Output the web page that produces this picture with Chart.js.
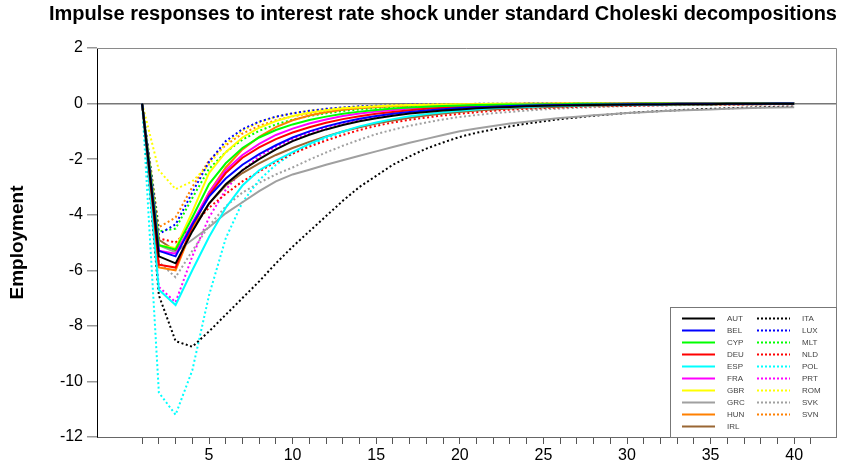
<!DOCTYPE html>
<html>
<head>
<meta charset="utf-8">
<script src="https://cdn.jsdelivr.net/npm/chart.js@4"></script>
<style>
  html, body { margin: 0; padding: 0; background: #fff; }
  #wrap { width: 852px; height: 468px; }
</style>
</head>
<body>
<div id="wrap"><canvas id="myChart" width="852" height="468"></canvas></div>
<script>
var chartTitle = 'Impulse responses to interest rate shock under standard Choleski decompositions';
var periods = [1, 2, 3, 4, 5, 6, 7, 8, 9, 10,
  11, 12, 13, 14, 15, 16, 17, 18, 19, 20,
  21, 22, 23, 24, 25, 26, 27, 28, 29, 30,
  31, 32, 33, 34, 35, 36, 37, 38, 39, 40];
var yTicks = [2, 0, -2, -4, -6, -8, -10, -12];

// solid lines
var AUT = [0, -5.5, -5.75, -4.6, -3.6, -2.9, -2.4, -2.0, -1.65, -1.35,
  -1.12, -0.93, -0.77, -0.64, -0.53, -0.44, -0.36, -0.3, -0.25, -0.21,
  -0.17, -0.14, -0.12, -0.1, -0.08, -0.07, -0.06, -0.05, -0.04, -0.04,
  -0.03, -0.03, -0.02, -0.02, -0.02, -0.01, -0.01, -0.01, -0.01, -0.01];
var BEL = [0, -5.3, -5.5, -4.35, -3.35, -2.7, -2.2, -1.82, -1.5, -1.22,
  -1.0, -0.82, -0.67, -0.55, -0.45, -0.37, -0.3, -0.25, -0.2, -0.16,
  -0.13, -0.11, -0.09, -0.07, -0.06, -0.05, -0.04, -0.03, -0.03, -0.02,
  -0.02, -0.02, -0.01, -0.01, -0.01, -0.01, -0.01, -0.01, 0, 0];
var CYP = [0, -5.1, -5.25, -4.1, -2.9, -2.15, -1.6, -1.22, -0.95, -0.75,
  -0.59, -0.47, -0.37, -0.29, -0.23, -0.18, -0.14, -0.11, -0.09, -0.07,
  -0.05, -0.04, -0.03, -0.03, -0.02, -0.02, -0.01, -0.01, -0.01, -0.01,
  0, 0, 0, 0, 0, 0, 0, 0, 0, 0];
var DEU = [0, -5.8, -5.9, -4.4, -3.3, -2.5, -1.95, -1.58, -1.28, -1.04,
  -0.85, -0.69, -0.56, -0.46, -0.37, -0.3, -0.24, -0.19, -0.15, -0.12,
  -0.1, -0.08, -0.06, -0.05, -0.04, -0.03, -0.03, -0.02, -0.02, -0.01,
  -0.01, -0.01, -0.01, 0, 0, 0, 0, 0, 0, 0];
var ESP = [0, -6.7, -7.25, -6.0, -4.8, -3.75, -2.95, -2.4, -2.05, -1.75,
  -1.45, -1.2, -1.0, -0.82, -0.68, -0.56, -0.46, -0.38, -0.31, -0.26,
  -0.21, -0.17, -0.14, -0.12, -0.1, -0.08, -0.07, -0.06, -0.05, -0.04,
  -0.03, -0.03, -0.02, -0.02, -0.02, -0.01, -0.01, -0.01, -0.01, -0.01];
var FRA = [0, -5.3, -5.4, -4.3, -3.2, -2.4, -1.85, -1.45, -1.13, -0.9,
  -0.72, -0.57, -0.45, -0.36, -0.29, -0.23, -0.18, -0.14, -0.11, -0.09,
  -0.07, -0.06, -0.05, -0.04, -0.03, -0.02, -0.02, -0.02, -0.01, -0.01,
  -0.01, -0.01, 0, 0, 0, 0, 0, 0, 0, 0];
var GBR = [0, -5.1, -5.2, -3.9, -2.5, -1.75, -1.22, -0.87, -0.63, -0.45,
  -0.33, -0.24, -0.17, -0.13, -0.1, -0.07, -0.05, -0.04, -0.03, -0.02,
  -0.02, -0.01, -0.01, -0.01, -0.01, 0, 0, 0, 0, 0,
  0, 0, 0, 0, 0, 0, 0, 0, 0, 0];
var GRC = [0, -5.1, -5.35, -4.9, -4.45, -3.95, -3.55, -3.15, -2.8, -2.55,
  -2.38, -2.2, -2.04, -1.88, -1.72, -1.56, -1.41, -1.27, -1.13, -1.0,
  -0.9, -0.81, -0.72, -0.65, -0.58, -0.52, -0.47, -0.42, -0.38, -0.34,
  -0.31, -0.28, -0.25, -0.23, -0.21, -0.19, -0.17, -0.15, -0.14, -0.13];
var HUN = [0, -5.9, -6.0, -4.5, -3.2, -2.3, -1.65, -1.2, -0.85, -0.6,
  -0.43, -0.31, -0.22, -0.16, -0.12, -0.09, -0.07, -0.05, -0.04, -0.03,
  -0.02, -0.02, -0.01, -0.01, -0.01, 0, 0, 0, 0, 0,
  0, 0, 0, 0, 0, 0, 0, 0, 0, 0];
var IRL = [0, -4.9, -5.3, -4.5, -3.6, -2.95, -2.5, -2.15, -1.85, -1.6,
  -1.38, -1.18, -1.0, -0.85, -0.72, -0.61, -0.51, -0.43, -0.36, -0.3,
  -0.25, -0.21, -0.18, -0.15, -0.13, -0.11, -0.09, -0.08, -0.07, -0.06,
  -0.05, -0.04, -0.04, -0.03, -0.03, -0.02, -0.02, -0.02, -0.01, -0.01];

// dotted lines
var ITA = [0, -6.9, -8.55, -8.75, -8.2, -7.6, -7.0, -6.4, -5.75, -5.15,
  -4.6, -4.05, -3.5, -3.0, -2.6, -2.2, -1.9, -1.62, -1.4, -1.2,
  -1.05, -0.93, -0.82, -0.72, -0.64, -0.56, -0.5, -0.44, -0.39, -0.34,
  -0.3, -0.27, -0.24, -0.21, -0.19, -0.17, -0.15, -0.13, -0.12, -0.11];
var LUX = [0, -4.7, -4.35, -3.2, -2.1, -1.35, -0.92, -0.65, -0.47, -0.35,
  -0.26, -0.19, -0.14, -0.1, -0.08, -0.06, -0.04, -0.03, -0.02, -0.02,
  -0.01, -0.01, -0.01, 0, 0, 0, 0, 0, 0, 0,
  0, 0, 0, 0, 0, 0, 0, 0, 0, 0];
var MLT = [0, -4.6, -4.5, -3.4, -2.35, -1.75, -1.3, -0.98, -0.75, -0.58,
  -0.45, -0.35, -0.27, -0.21, -0.16, -0.12, -0.09, -0.07, -0.05, -0.04,
  -0.03, -0.02, -0.02, -0.01, -0.01, -0.01, 0, 0, 0, 0,
  0, 0, 0, 0, 0, 0, 0, 0, 0, 0];
var NLD = [0, -4.85, -5.0, -4.4, -3.75, -3.25, -2.8, -2.45, -2.1, -1.8,
  -1.55, -1.33, -1.13, -0.95, -0.8, -0.68, -0.58, -0.5, -0.43, -0.37,
  -0.31, -0.26, -0.22, -0.19, -0.16, -0.14, -0.12, -0.1, -0.09, -0.08,
  -0.07, -0.06, -0.05, -0.04, -0.04, -0.03, -0.03, -0.02, -0.02, -0.02];
var POL = [0, -10.4, -11.2, -9.6, -6.9, -4.85, -3.55, -2.75, -2.2, -1.8,
  -1.5, -1.25, -1.03, -0.85, -0.7, -0.58, -0.48, -0.39, -0.32, -0.27,
  -0.22, -0.18, -0.15, -0.12, -0.1, -0.08, -0.07, -0.06, -0.05, -0.04,
  -0.03, -0.03, -0.02, -0.02, -0.02, -0.01, -0.01, -0.01, -0.01, -0.01];
var PRT = [0, -6.6, -7.15, -5.5, -4.1, -3.1, -2.4, -1.9, -1.55, -1.28,
  -1.05, -0.86, -0.7, -0.57, -0.47, -0.38, -0.31, -0.25, -0.21, -0.17,
  -0.14, -0.11, -0.09, -0.07, -0.06, -0.05, -0.04, -0.03, -0.03, -0.02,
  -0.02, -0.01, -0.01, -0.01, -0.01, 0, 0, 0, 0, 0];
var ROM = [0, -2.4, -3.08, -2.8, -2.2, -1.45, -0.97, -0.67, -0.48, -0.35,
  -0.26, -0.19, -0.14, -0.1, -0.08, -0.06, -0.04, -0.03, -0.02, -0.02,
  -0.01, -0.01, -0.01, 0, 0, 0, 0, 0, 0, 0,
  0, 0, 0, 0, 0, 0, 0, 0, 0, 0];
var SVK = [0, -5.7, -6.25, -5.3, -4.4, -3.7, -3.2, -2.85, -2.55, -2.3,
  -2.02, -1.76, -1.52, -1.3, -1.1, -0.94, -0.8, -0.68, -0.57, -0.48,
  -0.41, -0.35, -0.3, -0.25, -0.21, -0.18, -0.15, -0.13, -0.11, -0.09,
  -0.08, -0.07, -0.06, -0.05, -0.04, -0.04, -0.03, -0.03, -0.02, -0.02];
var SVN = [0, -4.45, -4.1, -3.0, -2.05, -1.5, -1.08, -0.8, -0.6, -0.46,
  -0.36, -0.28, -0.22, -0.17, -0.13, -0.1, -0.08, -0.06, -0.05, -0.04,
  -0.03, -0.02, -0.02, -0.01, -0.01, -0.01, 0, 0, 0, 0,
  0, 0, 0, 0, 0, 0, 0, 0, 0, 0];

var solidNames = ['AUT', 'BEL', 'CYP', 'DEU', 'ESP', 'FRA', 'GBR', 'GRC', 'HUN', 'IRL'];
var solidData = [AUT, BEL, CYP, DEU, ESP, FRA, GBR, GRC, HUN, IRL];
var solidColors = ['#000000', '#0000ff', '#00ff00', '#ff0000', '#00ffff', '#ff00ff', '#ffff00', '#a0a0a0', '#ff8000', '#996633'];
var dottedNames = ['ITA', 'LUX', 'MLT', 'NLD', 'POL', 'PRT', 'ROM', 'SVK', 'SVN'];
var dottedData = [ITA, LUX, MLT, NLD, POL, PRT, ROM, SVK, SVN];
var dottedColors = ['#000000', '#0000ff', '#00ff00', '#ff0000', '#00ffff', '#ff00ff', '#ffff00', '#a0a0a0', '#ff8000'];

function toPoints(arr) {
  return periods.map(function (p, i) { return { x: p, y: arr[i] }; });
}

var datasets = [];
solidNames.forEach(function (n, i) {
  datasets.push({ label: n, data: toPoints(solidData[i]), borderColor: solidColors[i],
    borderWidth: 2, pointRadius: 0, tension: 0, fill: false });
});
dottedNames.forEach(function (n, i) {
  datasets.push({ label: n, data: toPoints(dottedData[i]), borderColor: dottedColors[i],
    borderWidth: 2, borderDash: [2, 2.5], pointRadius: 0, tension: 0, fill: false });
});

// frame, title and two-column legend
var extras = {
  id: 'extras',
  afterDraw: function (chart) {
    var c = chart.ctx, a = chart.chartArea;
    c.save();
    c.strokeStyle = '#8a8a8a';
    c.lineWidth = 1;
    c.beginPath();
    c.moveTo(a.left, a.top + 0.5); c.lineTo(a.right + 0.5, a.top + 0.5);
    c.lineTo(a.right + 0.5, a.bottom);
    c.stroke();

    c.fillStyle = '#000';
    c.font = 'bold 20px Arial';
    c.textAlign = 'center';
    c.textBaseline = 'middle';
    c.fillText(chartTitle, 443, 14);

    // legend box
    var bx = 670, by = 307, bw = a.right - 670, bh = a.bottom - 307;
    c.fillStyle = '#fff';
    c.fillRect(bx, by, bw, bh);
    c.strokeStyle = '#777';
    c.strokeRect(bx + 0.5, by + 0.5, bw, bh);
    c.font = '8px Arial';
    c.textAlign = 'left';
    chart.data.datasets.forEach(function (ds, i) {
      var col = i < 10 ? 0 : 1;
      var row = i < 10 ? i : i - 10;
      var y = 318.5 + row * 12;
      var x0 = col === 0 ? 682 : 757;
      c.strokeStyle = ds.borderColor;
      c.lineWidth = 2;
      c.setLineDash(ds.borderDash ? [2, 2] : []);
      c.beginPath();
      c.moveTo(x0, y); c.lineTo(x0 + 33, y);
      c.stroke();
      c.setLineDash([]);
      c.fillStyle = '#444';
      c.fillText(ds.label, x0 + 45, y + 0.5);
    });
    c.restore();
  }
};

var ctx = document.getElementById('myChart').getContext('2d');
var myChart = new Chart(ctx, {
  type: 'line',
  data: { datasets: datasets },
  plugins: [extras],
  options: {
    responsive: false,
    animation: false,
    layout: { padding: { top: 48, right: 16, left: 0, bottom: 0 } },
    plugins: { legend: { display: false }, title: { display: false }, tooltip: { enabled: false } },
    scales: {
      x: {
        type: 'linear', min: -1.7, max: 42.5,
        afterFit: function (s) { s.height = 31; },
        afterBuildTicks: function (s) {
          s.ticks = s.ticks.filter(function (t) { return t.value >= 1 && t.value <= 41; });
        },
        ticks: {
          stepSize: 1, autoSkip: false, maxRotation: 0, padding: 2,
          color: '#000', font: { family: 'Arial', size: 16 },
          callback: function (v) { return v % 5 === 0 ? String(v) : ''; }
        },
        grid: { drawOnChartArea: false, tickLength: 7, tickColor: '#555' },
        border: { color: '#666' }
      },
      y: {
        min: -12, max: 2,
        afterFit: function (s) { s.width = 97; },
        afterBuildTicks: function (s) {
          s.ticks = yTicks.map(function (v) { return { value: v }; });
        },
        ticks: { color: '#000', padding: 4, font: { family: 'Arial', size: 16 } },
        grid: {
          color: function (c) { return c.tick && c.tick.value === 0 ? '#777' : 'rgba(0,0,0,0)'; },
          lineWidth: 1.5, tickLength: 10, tickColor: '#999'
        },
        border: { color: '#000' },
        title: { display: true, text: 'Employment', color: '#000',
          font: { family: 'Arial', size: 19, weight: 'bold' }, padding: { top: 6, bottom: 0 } }
      }
    }
  }
});
</script>
</body>
</html>
